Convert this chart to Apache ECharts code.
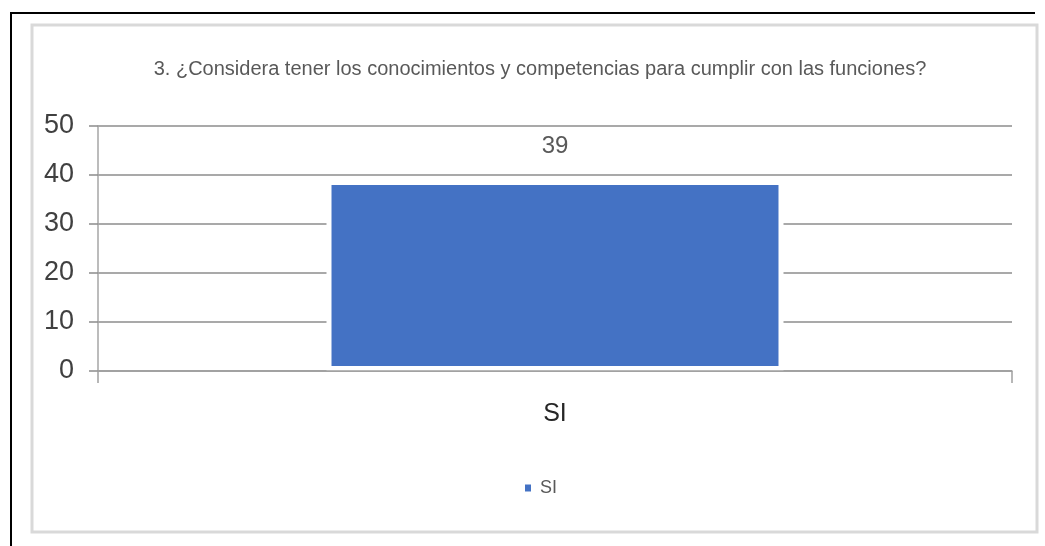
<!DOCTYPE html>
<html>
<head>
<meta charset="utf-8">
<script src="https://cdn.jsdelivr.net/npm/echarts@6/dist/echarts.min.js"></script>
<style>
  html, body { margin: 0; padding: 0; background: #ffffff; }
  #chart { width: 1045px; height: 546px; }
</style>
</head>
<body>
<div id="chart"></div>
<script>
const titleText = '3. ¿Considera tener los conocimientos y competencias para cumplir con las funciones?';
const categories = ['SI'];
const seriesName = 'SI';
const values = [39];
const yTicks = { min: 0, max: 50, interval: 10 };

const FONT = '"Liberation Sans Narrow", "Arial Narrow", "Liberation Sans", sans-serif';

const chart = echarts.init(document.getElementById('chart'), null, { renderer: 'canvas' });
chart.setOption({
  backgroundColor: '#ffffff',
  animation: false,
  graphic: [
    { type: 'rect', z: 0, silent: true,
      shape: { x: 32, y: 25, width: 1005, height: 507 },
      style: { fill: 'none', stroke: '#d9d9d9', lineWidth: 3 } },
    { type: 'line', z: 0, silent: true,
      shape: { x1: 10, y1: 13, x2: 1035, y2: 13 },
      style: { stroke: '#000000', lineWidth: 2 } },
    { type: 'line', z: 0, silent: true,
      shape: { x1: 11, y1: 12, x2: 11, y2: 546 },
      style: { stroke: '#000000', lineWidth: 2 } }
  ],
  title: {
    text: titleText,
    left: 535,
    top: 54,
    textAlign: 'center',
    textStyle: { fontFamily: FONT, fontSize: 20, fontWeight: 'normal', color: '#595959' }
  },
  legend: {
    data: [seriesName],
    left: 518,
    top: 474,
    icon: 'rect',
    itemWidth: 8,
    itemHeight: 9,
    itemGap: 10,
    textStyle: { fontFamily: FONT, fontSize: 18, color: '#595959', padding: [0, 0, 0, 3] }
  },
  grid: { left: 98, right: 33, top: 126, bottom: 175, containLabel: false },
  xAxis: {
    type: 'category',
    data: categories,
    z: 5,
    axisLine: { show: true, lineStyle: { color: '#a0a0a0', width: 1.5 } },
    axisTick: { show: true, alignWithLabel: false, length: 12, lineStyle: { color: '#a0a0a0', width: 1.5 } },
    axisLabel: { margin: 31, fontFamily: FONT, fontSize: 25, color: '#262626' },
    splitLine: { show: false }
  },
  yAxis: {
    type: 'value',
    min: yTicks.min,
    max: yTicks.max,
    interval: yTicks.interval,
    axisLine: { show: true, lineStyle: { color: '#a6a6a6', width: 1.5 } },
    axisTick: { show: true, length: 9, lineStyle: { color: '#8c8c8c', width: 1.5 } },
    axisLabel: { margin: 24, fontFamily: FONT, fontSize: 27, color: '#404040' },
    splitLine: { show: true, lineStyle: { color: '#8c8c8c', width: 1.5 } }
  },
  series: [{
    name: seriesName,
    type: 'bar',
    data: values,
    barWidth: '50%',
    itemStyle: { color: '#4472c4', borderColor: '#ffffff', borderWidth: 5 },
    label: {
      show: true,
      position: 'top',
      distance: 22,
      fontFamily: FONT,
      fontSize: 24,
      color: '#595959'
    }
  }]
});
</script>
</body>
</html>
